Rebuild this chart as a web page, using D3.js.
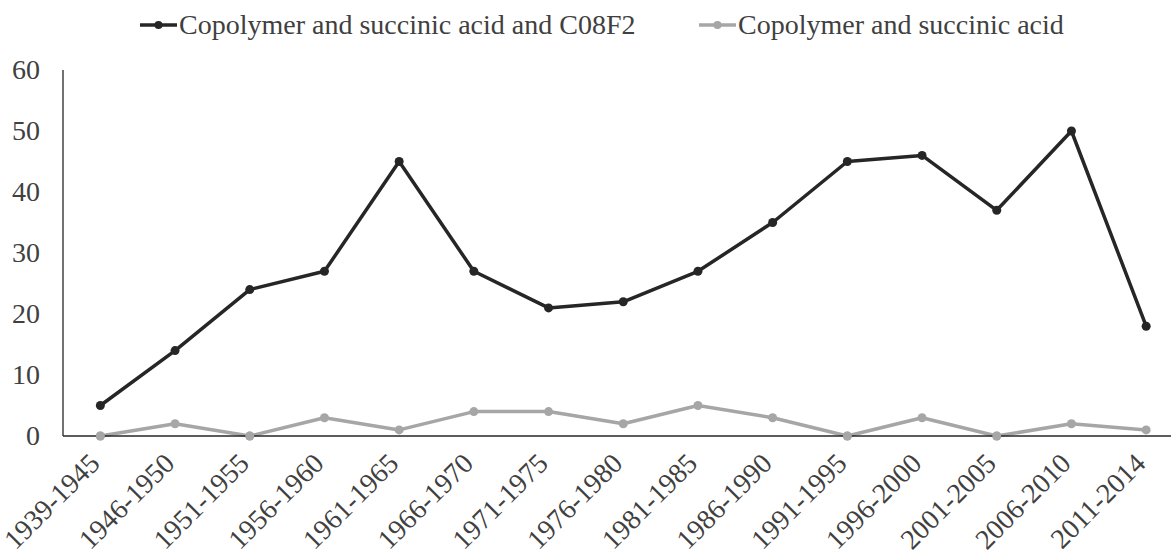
<!DOCTYPE html>
<html>
<head>
<meta charset="utf-8">
<script src="https://cdn.jsdelivr.net/npm/d3@7"></script>
<style>
  body { margin: 0; background: #fff; }
  text { font-family: "Liberation Serif", "Times New Roman", serif; fill: #404040; }
</style>
</head>
<body>
<svg id="chart"></svg>
<script>
const width = 1171, height = 556;

// periods on the x axis
const periods = ["1939-1945", "1946-1950", "1951-1955", "1956-1960", "1961-1965",
  "1966-1970", "1971-1975", "1976-1980", "1981-1985", "1986-1990",
  "1991-1995", "1996-2000", "2001-2005", "2006-2010", "2011-2014"];

const withC08F2 = [5, 14, 24, 27, 45, 27, 21, 22, 27, 35, 45, 46, 37, 50, 18];
const succinicOnly = [0, 2, 0, 3, 1, 4, 4, 2, 5, 3, 0, 3, 0, 2, 1];

const yTicks = [0, 10, 20, 30, 40, 50, 60];

const series = [
  { name: "Copolymer and succinic acid and C08F2", values: withC08F2, color: "#262626" },
  { name: "Copolymer and succinic acid", values: succinicOnly, color: "#a6a6a6" }
];

const svg = d3.select("#chart")
  .attr("width", width)
  .attr("height", height);

const plotLeft = 63, plotBottom = 436, plotTop = 70;
const fontSize = "28px";

const x = d3.scaleBand()
  .domain(periods)
  .range([plotLeft, plotLeft + 15 * 74.7]);

const y = d3.scaleLinear()
  .domain([0, 60])
  .range([plotBottom, plotTop]);

// y axis: just the line and labels
svg.append("line")
  .attr("x1", plotLeft).attr("x2", plotLeft)
  .attr("y1", y(60)).attr("y2", y(0))
  .attr("stroke", "#262626").attr("stroke-width", 1.3);

svg.selectAll(".ylab")
  .data(yTicks)
  .enter()
  .append("text")
    .attr("class", "ylab")
    .attr("x", 40)
    .attr("y", d => y(d))
    .attr("dy", "0.33em")
    .attr("text-anchor", "end")
    .style("font-size", fontSize)
    .text(d => d);

// series
const line = d3.line()
  .x((d, i) => x(periods[i]) + x.bandwidth() / 2)
  .y(d => y(d));

series.slice().reverse().forEach(s => {
  svg.append("path")
    .datum(s.values)
    .attr("d", line)
    .attr("fill", "none")
    .attr("stroke", s.color)
    .attr("stroke-width", 3.5)
    .attr("stroke-linejoin", "round");

  svg.selectAll(null)
    .data(s.values)
    .enter()
    .append("circle")
      .attr("cx", (d, i) => x(periods[i]) + x.bandwidth() / 2)
      .attr("cy", d => y(d))
      .attr("r", 4.5)
      .attr("fill", s.color);
});

// x axis line
svg.append("line")
  .attr("x1", plotLeft).attr("x2", width)
  .attr("y1", y(0)).attr("y2", y(0))
  .attr("stroke", "#262626").attr("stroke-width", 1.3);

// grey markers at zero sit on top of the axis
svg.selectAll(".zero")
  .data(succinicOnly.map((v, i) => ({ v, i })).filter(d => d.v === 0))
  .enter()
  .append("circle")
    .attr("cx", d => x(periods[d.i]) + x.bandwidth() / 2)
    .attr("cy", y(0))
    .attr("r", 4.5)
    .attr("fill", "#a6a6a6");

svg.selectAll(".xlab")
  .data(periods)
  .enter()
  .append("text")
    .attr("class", "xlab")
    .attr("transform", d => `translate(${x(d) + x.bandwidth() / 2 + 1},${plotBottom + 29}) rotate(-45)`)
    .attr("text-anchor", "end")
    .style("font-size", fontSize)
    .text(d => d);

// legend
const legendPos = [140, 699];
series.forEach((s, i) => {
  const g = svg.append("g").attr("transform", `translate(${legendPos[i]},25)`);
  g.append("line")
    .attr("x1", 0).attr("x2", 37)
    .attr("stroke", s.color).attr("stroke-width", 3.5);
  g.append("circle").attr("cx", 18.5).attr("r", 4).attr("fill", s.color);
  g.append("text")
    .attr("x", 39)
    .attr("dy", "0.33em")
    .style("font-size", fontSize)
    .text(s.name);
});
</script>
</body>
</html>
